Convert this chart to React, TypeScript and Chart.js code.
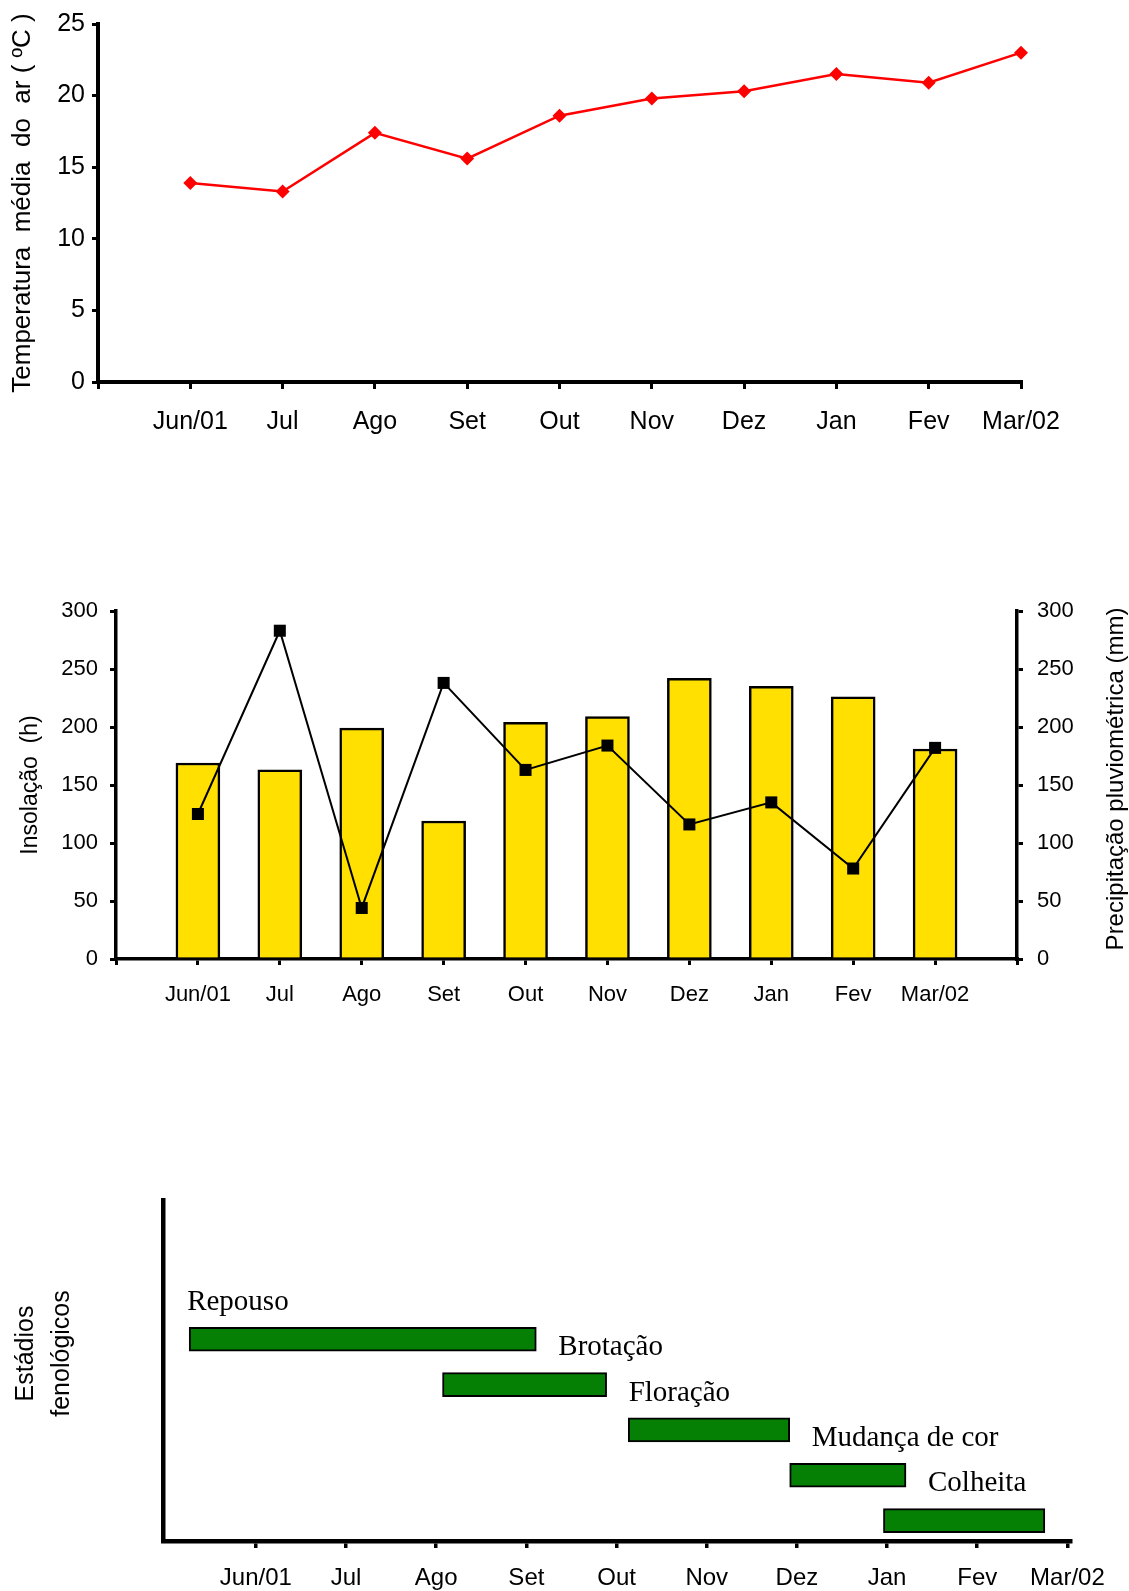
import React, { useEffect, useRef } from "react";
import { Chart, registerables } from "chart.js";

Chart.register(...registerables);

// ---------- data ----------
const months = ["Jun/01", "Jul", "Ago", "Set", "Out", "Nov", "Dez", "Jan", "Fev", "Mar/02"];
const temperature = [13.9, 13.3, 17.4, 15.6, 18.6, 19.8, 20.3, 21.5, 20.9, 23.0];
const insolation = [169, 163, 199, 119, 204, 209, 242, 235, 226, 181];
const precipitation = [125, 283, 44, 238, 163, 184, 116, 135, 78, 182];
const stages = ["Repouso", "Brotação", "Floração", "Mudança de cor", "Colheita"];
const stageStart = [0.26, 3.07, 5.13, 6.92, 7.96];
const stageEnd = [4.11, 4.89, 6.92, 8.21, 9.75];
const stageRow = [4, 3, 2, 1, 0];

const tempTitle = "Temperatura  média  do  ar ( ºC )";
const insolTitle = "Insolação  (h)";
const precipTitle = "Precipitação pluviométrica (mm)";
const stageTitle = ["Estádios", "fenológicos"];

const SANS = "'Liberation Sans', Arial, Helvetica, sans-serif";
const SERIF = "'Liberation Serif', 'Times New Roman', serif";
const W = 1129;

const monthLabel = (v: number) => (Number.isInteger(v) && v >= 1 && v <= months.length ? months[v - 1] : "");

function useChart(ref: React.RefObject<HTMLCanvasElement | null>, make: () => any) {
  useEffect(() => {
    if (!ref.current) return;
    const chart = new Chart(ref.current, make());
    return () => chart.destroy();
  }, []);
}

// ---------- chart 1: temperature ----------
function TempChart() {
  const ref = useRef<HTMLCanvasElement>(null);
  const H = 470;
  useChart(ref, () => ({
    type: "line",
    data: {
      datasets: [
        {
          data: temperature.map((v, i) => ({ x: i + 1, y: v })),
          borderColor: "#ff0000",
          backgroundColor: "#ff0000",
          borderWidth: 2.5,
          pointStyle: "rectRot",
          pointRadius: 7,
          pointBorderWidth: 0,
          tension: 0,
          clip: false,
        },
      ],
    },
    options: {
      animation: false,
      responsive: false,
      layout: { padding: { top: 24, right: W - 1021, left: 0, bottom: 0 } },
      plugins: { legend: { display: false }, tooltip: { enabled: false } },
      scales: {
        x: {
          type: "linear",
          min: 0,
          max: 10,
          afterFit: (s: any) => { s.height = H - 382; },
          border: { display: true, color: "#000", width: 4 },
          grid: { display: true, drawOnChartArea: false, drawTicks: true, tickLength: 7, color: "#000", lineWidth: 3 },
          ticks: {
            stepSize: 1, autoSkip: false, maxRotation: 0, color: "#000",
            font: { family: SANS, size: 25 }, padding: 18,
            callback: (v: number) => monthLabel(v),
          },
        },
        y: {
          min: 0,
          max: 25,
          afterFit: (s: any) => { s.width = 98; },
          border: { display: true, color: "#000", width: 4 },
          grid: { display: true, drawOnChartArea: false, drawTicks: true, tickLength: 6, color: "#000", lineWidth: 3 },
          ticks: { stepSize: 5, color: "#000", font: { family: SANS, size: 25 }, padding: 7 },
          title: { display: true, text: tempTitle, color: "#000", font: { family: SANS, size: 26 }, padding: { top: 7, bottom: 0 } },
        },
      },
    },
  }));
  return <canvas ref={ref} width={W} height={H} style={{ position: "absolute", left: 0, top: 0, width: W, height: H }} />;
}

// ---------- chart 2: insolation + precipitation ----------
function RainChart() {
  const ref = useRef<HTMLCanvasElement>(null);
  const H = 510;
  const TOP = 520;
  const rightTitle = {
    id: "rightTitle",
    afterDraw(chart: any) {
      const { ctx, chartArea } = chart;
      ctx.save();
      ctx.translate(1116, (chartArea.top + chartArea.bottom) / 2 - 6);
      ctx.rotate(-Math.PI / 2);
      ctx.font = `24px ${SANS}`;
      ctx.fillStyle = "#000";
      ctx.textAlign = "center";
      ctx.textBaseline = "middle";
      ctx.fillText(precipTitle, 0, 0);
      ctx.restore();
    },
  };
  useChart(ref, () => ({
    type: "bar",
    data: {
      datasets: [
        {
          type: "line",
          data: precipitation.map((v, i) => ({ x: i + 1, y: v })),
          yAxisID: "y1",
          borderColor: "#000",
          backgroundColor: "#000",
          borderWidth: 2,
          pointStyle: "rect",
          pointRadius: 8.5,
          pointBorderWidth: 0,
          order: 0,
          clip: false,
        },
        {
          type: "bar",
          data: insolation.map((v, i) => ({ x: i + 1, y: v })),
          yAxisID: "y",
          backgroundColor: "#FFE000",
          borderColor: "#000",
          borderWidth: 2.5,
          barThickness: 44,
          order: 1,
        },
      ],
    },
    options: {
      animation: false,
      responsive: false,
      layout: { padding: { top: 611 - TOP, right: 0, left: 0, bottom: 0 } },
      plugins: { legend: { display: false }, tooltip: { enabled: false } },
      scales: {
        x: {
          type: "linear",
          min: 0,
          max: 11,
          offset: false,
          afterFit: (s: any) => { s.height = H - (959 - TOP); },
          border: { display: true, color: "#000", width: 3.5 },
          grid: { display: true, offset: false, drawOnChartArea: false, drawTicks: true, tickLength: 6, color: "#000", lineWidth: 3 },
          ticks: {
            stepSize: 1, autoSkip: false, maxRotation: 0, color: "#000",
            font: { family: SANS, size: 22 }, padding: 17,
            callback: (v: number) => monthLabel(v),
          },
        },
        y: {
          position: "left",
          min: 0,
          max: 300,
          afterFit: (s: any) => { s.width = 116; },
          border: { display: true, color: "#000", width: 3.5 },
          grid: { display: true, drawOnChartArea: false, drawTicks: true, tickLength: 6, color: "#000", lineWidth: 3 },
          ticks: { stepSize: 50, color: "#000", font: { family: SANS, size: 22 }, padding: 12 },
          title: { display: true, text: insolTitle, color: "#000", font: { family: SANS, size: 23 }, padding: { top: 17, bottom: 0 } },
        },
        y1: {
          position: "right",
          min: 0,
          max: 300,
          afterFit: (s: any) => { s.width = W - 1017; },
          border: { display: true, color: "#000", width: 3.5 },
          grid: { display: true, drawOnChartArea: false, drawTicks: true, tickLength: 6, color: "#000", lineWidth: 3 },
          ticks: { stepSize: 50, color: "#000", font: { family: SANS, size: 22 }, padding: 14 },
        },
      },
    },
    plugins: [rightTitle],
  }));
  return <canvas ref={ref} width={W} height={H} style={{ position: "absolute", left: 0, top: TOP, width: W, height: H }} />;
}

// ---------- chart 3: phenological stages ----------
function StageChart() {
  const ref = useRef<HTMLCanvasElement>(null);
  const TOP = 1100;
  const H = 1591 - TOP;
  const labels = {
    id: "stageLabels",
    afterDatasetsDraw(chart: any) {
      const { ctx, scales } = chart;
      const x = scales.x;
      const y = scales.y;
      ctx.save();
      ctx.font = `29px ${SERIF}`;
      ctx.fillStyle = "#000";
      ctx.textAlign = "left";
      ctx.textBaseline = "middle";
      stages.forEach((name, i) => {
        const px = i === 0 ? x.getPixelForValue(stageStart[0]) - 2 : x.getPixelForValue(stageEnd[i - 1]) + 22;
        const py = y.getPixelForValue(stageRow[i]) - 37;
        ctx.fillText(name, px, py);
      });
      ctx.restore();
    },
  };
  const leftTitle = {
    id: "leftTitle",
    afterDraw(chart: any) {
      const { ctx, chartArea } = chart;
      ctx.save();
      ctx.translate(26, (chartArea.top + chartArea.bottom) / 2 - 17);
      ctx.rotate(-Math.PI / 2);
      ctx.font = `25px ${SANS}`;
      ctx.fillStyle = "#000";
      ctx.textAlign = "center";
      ctx.textBaseline = "middle";
      stageTitle.forEach((t, i) => ctx.fillText(t, 0, i * 36));
      ctx.restore();
    },
  };
  useChart(ref, () => ({
    type: "bar",
    data: {
      datasets: [
        {
          data: stages.map((_, i) => ({ x: [stageStart[i], stageEnd[i]], y: stageRow[i] })),
          backgroundColor: "#058005",
          borderColor: "#000",
          borderWidth: 2,
          borderSkipped: false,
          barThickness: 24,
        },
      ],
    },
    options: {
      indexAxis: "y",
      animation: false,
      responsive: false,
      layout: { padding: { top: 1200 - TOP, right: W - 1071, left: 0, bottom: 0 } },
      plugins: { legend: { display: false }, tooltip: { enabled: false } },
      scales: {
        x: {
          type: "linear",
          min: -0.03,
          max: 10.04,
          offset: false,
          afterBuildTicks: (s: any) => { s.ticks = months.map((_, i) => ({ value: i + 1 })); },
          afterFit: (s: any) => { s.height = H - (1541 - TOP); },
          border: { display: true, color: "#000", width: 4.5 },
          grid: { display: true, offset: false, drawOnChartArea: false, drawTicks: true, tickLength: 7, color: "#000", lineWidth: 3.5 },
          ticks: {
            autoSkip: false, maxRotation: 0, color: "#000",
            font: { family: SANS, size: 24 }, padding: 16,
            callback: (v: number) => monthLabel(v),
          },
        },
        y: {
          type: "linear",
          min: -0.45,
          max: 7.07,
          offset: false,
          afterFit: (s: any) => { s.width = 163; },
          border: { display: true, color: "#000", width: 4.5 },
          grid: { display: false },
          ticks: { display: false },
        },
      },
    },
    plugins: [labels, leftTitle],
  }));
  return <canvas ref={ref} width={W} height={H} style={{ position: "absolute", left: 0, top: TOP, width: W, height: H }} />;
}

export default function App() {
  return (
    <div style={{ position: "absolute", left: 0, top: 0, width: W, height: 1591, background: "#fff", overflow: "hidden" }}>
      <TempChart />
      <RainChart />
      <StageChart />
    </div>
  );
}
